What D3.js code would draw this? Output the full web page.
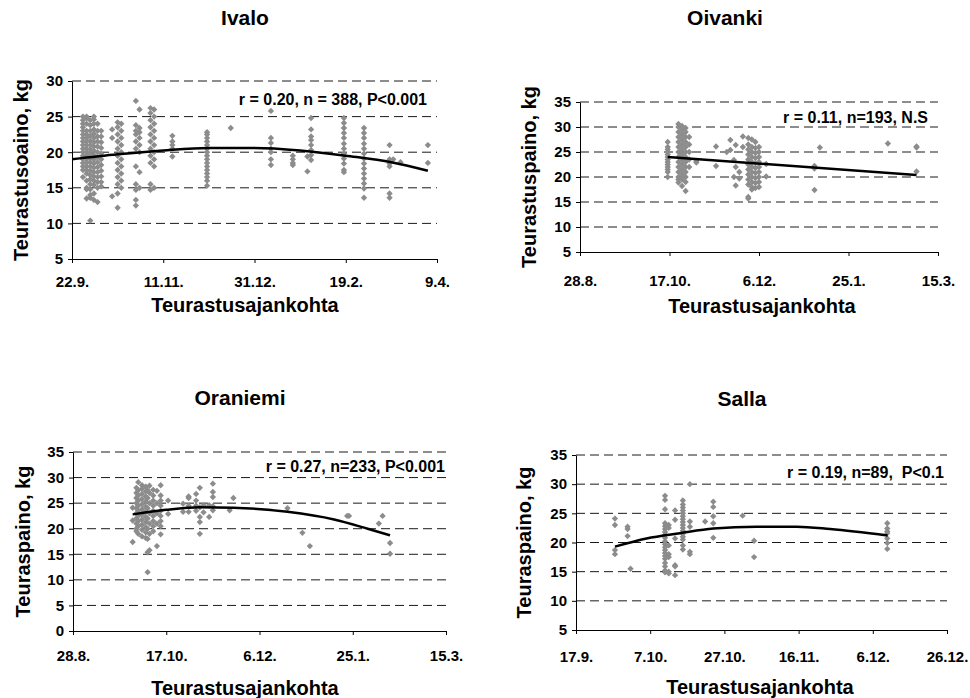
<!doctype HTML>
<html>
  <head>
    <meta charset="utf-8">
    <title>Teuraspaino ja teurastusajankohta</title>
    <style>
      body { margin: 0; background: #fff; }
      svg { font-family: "Liberation Sans", Arial, sans-serif; font-weight: bold; }
      .grid line { stroke: #1a1a1a; stroke-dasharray: 9 5; }
      .axis path, .axis line { stroke: #000; }
      .axis text { font-size: 15px; font-weight: bold; fill: #000; }
      .dot { fill: #8c8c8c; }
      .trend { fill: none; stroke: #000; stroke-width: 2.5px; }
      .note { white-space: pre; }
    </style>
    <script src="https://cdn.jsdelivr.net/npm/d3@7"></script>
  </head>
  <body>

  <svg width="970" height="698"></svg>

  <script>

  // Each column: [day since first x tick, [weights in kg]]
  var ivaloColumns = [
    [6, [25, 24.5, 24, 23.5, 23, 22.5, 22, 21.5, 21, 20.5, 20, 19.5, 19, 18.5, 18, 17.5, 16.5]],
    [8, [25, 24.8, 24, 23, 22.5, 22, 21.5, 21, 20.5, 20, 19.5, 19, 18.5, 18, 17.5, 17, 16, 15, 14.8, 13.5]],
    [10, [24.5, 23.8, 23, 22.3, 21.6, 21, 20.4, 19.8, 19.2, 18.6, 18, 17.4, 16.8, 16.2, 15.5, 14.8, 14, 13.6, 10.4]],
    [12, [25, 24.6, 24, 23.2, 22.6, 22, 21.4, 20.8, 20.2, 19.6, 19, 18.4, 17.8, 17.2, 16.6, 16, 15.4, 14.2, 13.3]],
    [14, [24, 23, 22.2, 21.5, 20.8, 20, 19.3, 18.6, 17.9, 17.2, 16.5, 15.8, 15, 13]],
    [16, [23, 22.2, 21.4, 20.6, 19.8, 19, 18.2, 17.4, 16.6, 15.8, 15.2]],
    [22, [23.2, 22, 13.8]],
    [25, [24.2, 23.5, 22.5, 21.5, 20.5, 19.5, 18.5, 17.5, 16.5, 15.5, 14.2, 12.2]],
    [27, [24, 23, 22, 21, 20, 19, 18, 17, 16, 15]],
    [35, [27.2, 23.8, 23, 22.5, 21.5, 20.5, 18, 15.5, 14.7, 13.3, 12.5]],
    [37, [26, 23.4, 22.8, 22, 21, 20, 17.2, 15]],
    [43, [26.2, 25.5, 24.5, 23.5, 22.5, 21.5, 20.5, 19.5, 18.5, 15.5, 14.7]],
    [45, [26, 25, 24, 23, 22, 21, 20, 19, 18, 15]],
    [55, [22.3, 21.5, 21, 20.5, 19.4]],
    [74, [22.8, 22.5, 22, 21.5, 21, 20.5, 20, 19.5, 19, 18.5, 18, 17.5, 17, 16.5, 16, 15.3]],
    [87, [23.4]],
    [109, [25.8, 22, 21.3, 20.5, 20, 19, 18.2]],
    [121, [19.5, 19, 18.5, 18.2]],
    [129, [19.4, 17.3]],
    [131, [24.8, 23.2, 22.2, 21.7, 21, 20.3, 19.6, 18.9]],
    [149, [24.8, 24.1, 23.4, 22.7, 22, 21.2, 20.5, 19.8, 19.1, 18.4, 17.5, 17.2]],
    [160, [23.4, 22.7, 22, 21.2, 20.5, 19.8, 19.1, 18.4, 17.7, 17, 16.3, 15.6, 14.9, 13.6]],
    [174, [21, 19, 18.4, 18, 14.2, 13.6]],
    [176, [19]],
    [180, [18.6]],
    [195, [21, 18.5]]
  ];
  var ivaloTrend = [[0, 19.0], [25, 19.7], [50, 20.25], [75, 20.6], [100, 20.6], [125, 20.25], [150, 19.5], [175, 18.6], [195, 17.4]];

  var oivankiColumns = [
    [49, [27, 26, 25.5, 25, 24.5, 24, 23.5, 23, 22.5, 22, 21.5, 21, 20]],
    [55, [30.6, 30, 29, 28, 27, 26, 25, 24, 23, 22, 21, 20, 19.5, 18.9]],
    [57, [30.2, 29.5, 28.5, 27.5, 26.5, 25.5, 24.5, 23.5, 22.5, 21.5, 20.5, 19.5, 18.2]],
    [59, [29.8, 29, 28, 27, 26, 25, 24, 23, 22, 21, 20, 19, 17.2]],
    [61, [28, 26.5, 25, 23.5, 22]],
    [65, [23.2, 22.9]],
    [76, [26.1, 22.2]],
    [82, [25]],
    [84, [27.4, 25.4]],
    [86, [20, 23.4]],
    [87, [26.4, 22, 18.3]],
    [89, [21, 19.7]],
    [91, [28.1, 26]],
    [94, [27.8, 26.5, 25.5, 24.5, 23.5, 22.5, 21.5, 20.5, 19.5, 18.5, 16, 15.7]],
    [96, [27.5, 26, 25, 24, 23, 22, 21, 20, 19, 18, 17.5]],
    [98, [27, 25.8, 24.8, 23.8, 22.8, 21.8, 20.8, 19.8, 18.8, 17.8]],
    [100, [26, 25, 24, 23, 22, 21, 20, 19, 18]],
    [104, [22.6, 20.1]],
    [131, [22.2, 21.7, 17.4]],
    [134, [25.9]],
    [172, [26.7]],
    [188, [26.1, 25.9, 21.1]]
  ];
  var oivankiTrend = [[49, 24.0], [188, 20.4]];

  var oraniemiColumns = [
    [32, [24.1, 21.6, 17.4]],
    [34, [28, 27, 26, 25, 24, 23, 22, 21, 20, 19.5]],
    [35, [29.1, 27.5, 26.5, 25.5, 24.5, 23.5, 22.5, 21.5, 20.5, 19]],
    [37, [28.5, 27.8, 26.8, 25.8, 24.8, 23.8, 22.8, 21.8, 20.8, 19.8, 18.5]],
    [39, [28.2, 27.3, 26.3, 25.3, 24.3, 23.3, 22.3, 21.3, 20.3, 19.3, 18.2]],
    [40, [27.5, 26, 24, 22, 20, 18, 15.4, 11.5]],
    [41, [28.4, 27, 25, 23, 21, 19, 15.8]],
    [43, [27.6, 26.5, 25.5, 24.5, 23.5, 22.5, 21.5, 20.5, 19.5]],
    [45, [27.4, 25, 23, 21, 16.6]],
    [47, [28.5, 26.5, 25.5, 24.5, 23.5, 22.5, 21.5, 20.5, 18.9]],
    [51, [25.5, 22.9]],
    [59, [24.9, 23.3]],
    [62, [26.3, 26, 23.3, 24.5]],
    [66, [26.8, 25.5, 24.5, 23.5]],
    [68, [28, 24.2, 22.3, 21.3, 19]],
    [70, [24.6, 23.2]],
    [73, [22.3, 24.6]],
    [75, [28.8, 27.2, 26.2, 24.4, 23.6]],
    [84, [23.6]],
    [86, [26]],
    [115, [24]],
    [123, [19.2]],
    [127, [16.6]],
    [147, [22.5]],
    [148, [22.5]],
    [164, [21]],
    [166, [22.5]],
    [170, [17.2, 15.1]]
  ];
  var oraniemiTrend = [[32, 22.8], [50, 23.7], [68, 24.2], [86, 24.1], [115, 23.3], [140, 21.8], [158, 20], [170, 18.7]];

  var sallaColumns = [
    [10.5, [24.1, 23, 18.7, 18]],
    [13.9, [22.7, 22.3, 21.1]],
    [14.7, [15.5]],
    [24, [28, 27.3, 25.7, 23.3, 22.8, 22.3, 21.8, 21.3, 20.8, 20.2, 19.7, 19.2, 18.7, 18.2, 17.7, 17.2, 16.5, 15.9, 15.2, 14.9]],
    [25, [23, 22.5, 19.5, 18, 17.5, 15, 14.7]],
    [26.7, [25.5, 23.9, 20.7, 16.1, 15.9, 14.4]],
    [28.8, [27.2, 26.5, 26, 25.5, 25, 24.5, 24, 23.5, 23, 22.5, 22, 21.5, 21, 20.5, 19.5, 18.8]],
    [30.7, [30, 23.6, 22.7, 18.4, 18]],
    [34.8, [23.6]],
    [37, [27, 26.1, 24.5, 23.3, 20.8]],
    [44.9, [24.6]],
    [48, [20.3, 17.5]],
    [83.9, [23.3, 22.4, 21.9, 21.6, 20.7, 19.9, 18.9]]
  ];
  var sallaTrend = [[10.5, 19.3], [19, 20.7], [28, 21.6], [37, 22.4], [48.7, 22.7], [59.5, 22.7], [68.5, 22.3], [84, 21.2]];

  var ivaloTicks = ['22.9.', '11.11.', '31.12.', '19.2.', '9.4.'];
  var oivankiTicks = ['28.8.', '17.10.', '6.12.', '25.1.', '15.3.'];
  var oraniemiTicks = ['28.8.', '17.10.', '6.12.', '25.1.', '15.3.'];
  var sallaTicks = ['17.9.', '7.10.', '27.10.', '16.11.', '6.12.', '26.12.'];

  var panels = [
    { title: 'Ivalo', ylabel: 'Teurastusoaino, kg', note: 'r = 0.20, n = 388, P<0.001',
      columns: ivaloColumns, trend: ivaloTrend, ticks: ivaloTicks, step: 50, yDomain: [5, 30],
      left: 72, right: 437, top: 81, bottom: 259, titleY: 25, titleX: 245,
      ylabelX: 28, xlabelY: 312, xlabelX: 245, noteX: 427, noteY: 105, pad: 13 },
    { title: 'Oivanki', ylabel: 'Teurastuspaino, kg', note: 'r = 0.11, n=193, N.S',
      columns: oivankiColumns, trend: oivankiTrend, ticks: oivankiTicks, step: 50, yDomain: [5, 35],
      left: 580, right: 938, top: 102, bottom: 252, titleY: 25, titleX: 725,
      ylabelX: 536, xlabelY: 313, xlabelX: 762, noteX: 928, noteY: 123, pad: 19 },
    { title: 'Oraniemi', ylabel: 'Teuraspaino, kg', note: 'r = 0.27, n=233, P<0.001',
      columns: oraniemiColumns, trend: oraniemiTrend, ticks: oraniemiTicks, step: 50, yDomain: [0, 35],
      left: 73, right: 446, top: 452, bottom: 631, titleY: 405, titleX: 240,
      ylabelX: 30, xlabelY: 695, xlabelX: 245, noteX: 445, noteY: 472, pad: 15 },
    { title: 'Salla', ylabel: 'Teuraspaino, kg', note: 'r = 0.19, n=89,  P<0.1',
      columns: sallaColumns, trend: sallaTrend, ticks: sallaTicks, step: 20, yDomain: [5, 35],
      left: 576, right: 947, top: 455, bottom: 630, titleY: 406, titleX: 742,
      ylabelX: 531, xlabelY: 694, xlabelX: 760, noteX: 944, noteY: 478, pad: 17 }
  ];

  var $svg = d3.select('svg');
  var diamond = d3.symbol(d3.symbolSquare, 20);

  panels.forEach(function(p) {
    var days = p.ticks.map(function(t, i) { return i * p.step; });
    var x = d3.scaleLinear().domain([0, days[days.length - 1]]).range([p.left, p.right]);
    var y = d3.scaleLinear().domain(p.yDomain).range([p.bottom, p.top]);
    var yTicks = d3.range(p.yDomain[0], p.yDomain[1] + 1, 5);

    var points = [];
    p.columns.forEach(function(c) {
      c[1].forEach(function(kg) { points.push([c[0], kg]); });
    });

    var $g = $svg.append('g');

    $g.append('g').attr('class', 'grid')
      .selectAll('line')
      .data(yTicks.slice(1))
      .join('line')
      .attr('x1', p.left).attr('x2', p.right)
      .attr('y1', function(d) { return y(d); })
      .attr('y2', function(d) { return y(d); });

    $g.append('g').attr('class', 'axis')
      .attr('transform', 'translate(' + p.left + ',0)')
      .call(d3.axisLeft(y).tickValues(yTicks).tickSize(4).tickSizeOuter(0).tickPadding(5));

    $g.append('g').attr('class', 'axis')
      .attr('transform', 'translate(0,' + p.bottom + ')')
      .call(d3.axisBottom(x).tickValues(days).tickSize(4).tickSizeOuter(0).tickPadding(p.pad)
        .tickFormat(function(d, i) { return p.ticks[i]; }));

    $g.append('g')
      .selectAll('path')
      .data(points)
      .join('path')
      .attr('class', 'dot')
      .attr('d', diamond)
      .attr('transform', function(d) {
        return 'translate(' + x(d[0]) + ',' + y(d[1]) + ') rotate(45)';
      });

    $g.append('path')
      .datum(p.trend)
      .attr('class', 'trend')
      .attr('d', d3.line()
        .x(function(d) { return x(d[0]); })
        .y(function(d) { return y(d[1]); })
        .curve(d3.curveMonotoneX));

    $g.append('text')
      .attr('class', 'note')
      .attr('x', p.noteX).attr('y', p.noteY)
      .attr('text-anchor', 'end')
      .style('font-size', '16px')
      .text(p.note);

    $g.append('text')
      .attr('x', p.titleX).attr('y', p.titleY)
      .attr('text-anchor', 'middle')
      .style('font-size', '21px')
      .text(p.title);

    $g.append('text')
      .attr('x', p.xlabelX).attr('y', p.xlabelY)
      .attr('text-anchor', 'middle')
      .style('font-size', '20px')
      .text('Teurastusajankohta');

    $g.append('text')
      .attr('transform', 'translate(' + p.ylabelX + ',' + ((p.top + p.bottom) / 2) + ') rotate(-90)')
      .attr('text-anchor', 'middle')
      .style('font-size', '20px')
      .text(p.ylabel);
  });

  </script>

  </body>
</html>
